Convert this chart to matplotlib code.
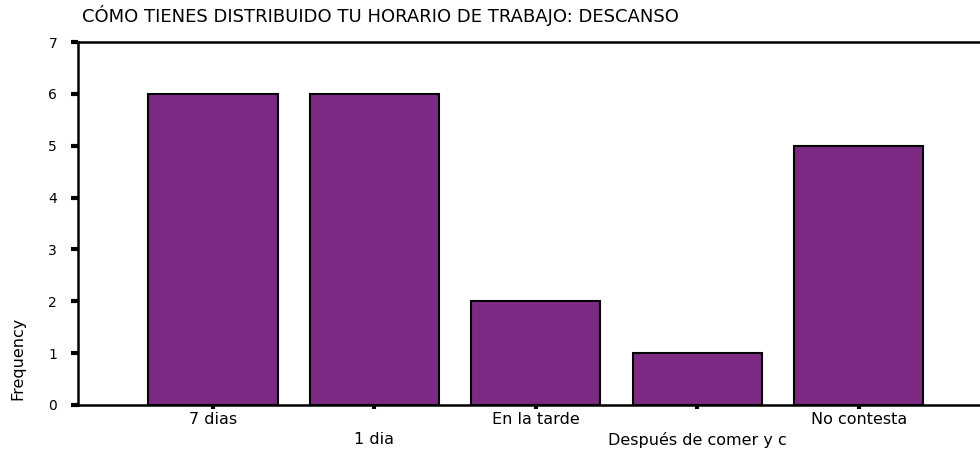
import matplotlib
matplotlib.use('Agg')
import numpy as np
from matplotlib import pyplot as plt

# wide glyphs to get closer to the stretched look of the original
plt.rcParams['font.family'] = ['DejaVu Sans']

title = 'CÓMO TIENES DISTRIBUIDO TU HORARIO DE TRABAJO: DESCANSO'
categories = ['7 dias', '1 dia', 'En la tarde', 'Después de comer y c', 'No contesta']
frequency = [6, 6, 2, 1, 5]
yticks = [0, 1, 2, 3, 4, 5, 6, 7]

fig = plt.figure(figsize=(9.8, 4.49), dpi=100)
ax = fig.add_axes([78/980, 44/449, 1.014 - 78/980, (405-42)/449])

x = np.arange(len(categories))
ax.bar(x, frequency, width=0.8, color='#7d2a84', edgecolor='black', linewidth=1.5)

ax.set_xlim(-0.836, 4.836)
ax.set_ylim(0, 7)
ax.set_yticks(yticks)
ax.set_yticklabels([str(v) for v in yticks], fontsize=10)
ax.set_xticks(x)
# alternate rows of labels
labels = [c if i % 2 == 0 else '\n' + c for i, c in enumerate(categories)]
ax.set_xticklabels(labels, fontsize=11.5, linespacing=1.4)
ax.tick_params(axis='y', length=5, width=3, direction='out', pad=10)
ax.tick_params(axis='x', length=3, width=3, direction='out', pad=2)

for s in ax.spines.values():
    s.set_linewidth(1.8)

fig.text(82/980, 1 - 16/449, title, fontsize=13, va='center', ha='left')
fig.text(18/980, 1 - 358/449, 'Frequency', fontsize=11.5, rotation=90, va='center', ha='center')

fig.savefig('out.png', dpi=100)
